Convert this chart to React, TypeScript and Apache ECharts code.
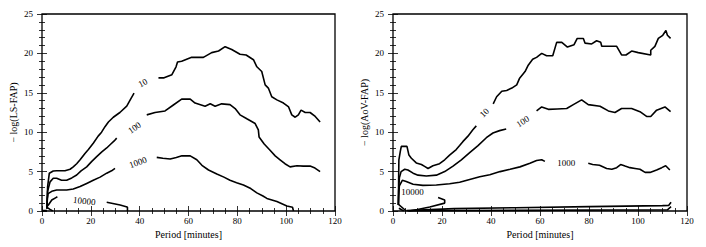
import React, { useEffect, useRef } from "react";
import * as echarts from "echarts";

// ---------- Data (x = period in minutes, y = -log FAP) ----------
const contourLabels = ["10", "100", "1000", "10000"];

// Left panel: LS-FAP contours
const ls10a = [[2,0.3],[2.3,3.1],[3.0,4.8],[4.6,5.07],[6,5.1],[9.4,5.1],[11.5,5.3],[12.8,5.6],[14.2,6.0],[15.6,6.5],[17.6,7.3],[19,7.8],[21,8.6],[23,9.5],[24.4,10],[25.8,10.7],[27.2,11.3],[29.2,11.9],[31.9,12.5],[34.7,13.3],[36.3,14.2],[37.7,14.95]];
const ls10b = [[47.7,16.9],[50,16.9],[53.2,17.3],[54.9,18.3],[55.5,18.9],[57.2,19.0],[61.3,19.5],[66.1,19.5],[69.5,20.1],[72.3,20.3],[75,20.85],[77.7,20.5],[81.1,19.9],[83.6,19.8],[86.6,19.2],[88,18.3],[90,17.7],[91.4,16.0],[92.7,15.6],[94.1,14.5],[96.2,14.1],[98.9,13.7],[101,13.2],[102.3,12.2],[103.7,11.9],[105,12.2],[106.1,12.8],[107.8,12.5],[109.8,12.5],[111.9,12.0],[113.9,11.3]];
const ls100a = [[2,0.3],[2.3,2.5],[3.3,3.7],[4.6,4.15],[6,4.15],[8,3.9],[10.1,3.9],[12.2,4.2],[14.2,4.57],[16,5.1],[18.3,5.6],[20.4,6.3],[22.4,6.9],[24.5,7.5],[26.5,8.0],[28.2,8.5],[29.9,9.0],[30.6,9.25]];
const ls100b = [[42.9,12.2],[46.3,12.5],[50.4,12.7],[53.8,13.45],[57.2,14.2],[60.7,14.2],[62.7,13.7],[66.8,13.3],[68.9,13.6],[70.9,13.3],[73.6,13.6],[77,13.5],[79.1,13.0],[81.1,12.2],[83.9,11.7],[87.3,11.1],[88.6,10.3],[88.9,9.4],[91,8.5],[93.4,7.7],[95.5,7.0],[97.5,6.5],[99.5,6.0],[101.6,5.6],[104.4,5.75],[107,5.7],[109.8,5.7],[111.8,5.45],[113.9,5.0]];
const ls1000a = [[2,0.3],[2.2,1.6],[2.5,2.2],[4,2.5],[6,2.66],[10.1,2.66],[12.8,2.8],[15.6,3.1],[18.3,3.5],[21,3.9],[23.8,4.3],[26.5,4.8],[28.5,5.1],[29.9,5.4]];
const ls1000b = [[47,6.8],[49.5,6.7],[52.5,6.6],[55,6.8],[57.3,7.0],[60.7,7.0],[63.4,6.5],[65.5,5.8],[68.2,5.2],[71.6,4.7],[74.5,4.3],[77,3.9],[79.7,3.6],[82.5,3.3],[85.5,2.85],[88,2.3],[90.5,1.9],[92.1,1.6],[96.2,1.2],[100.3,0.63],[102.6,0.47],[103,0]];
const ls10000a = [[1.9,0.5],[2.6,0.76],[4,1.4],[5.7,1.7],[6.3,1.8]];
const ls10000b = [[26.5,1.1],[29,0.95],[32,0.76],[34.5,0.55],[35,0.47],[35,0]];
const ls10000c = [[1.9,0.5],[3.3,0.2],[4.4,0]];
const lsEdge = [[0,0.05],[2,0.05]];

// Right panel: AoV-FAP contours
const aov10a = [[2.2,0.8],[2.3,4.0],[2.4,6.5],[3.0,7.6],[3.4,8.2],[5.7,8.2],[6.5,7.1],[7.5,6.7],[9.5,6.1],[11.6,5.9],[12.9,5.66],[14.3,5.4],[16.3,5.74],[19,6.0],[21.1,6.5],[23.1,7.1],[25.8,7.8],[27.2,8.3],[28.5,8.8],[30.6,9.5],[32.6,10.3],[34,10.8]];
const aov10b = [[40.9,13.6],[42.3,14.5],[44.4,15.2],[46.4,15.3],[48.5,15.6],[50.5,16.0],[51.6,16.8],[53.9,17.7],[55.2,18.5],[57,19.25],[58.6,19.5],[60.7,20.0],[62.7,19.7],[65.2,19.7],[66.8,21.4],[68.9,21.4],[71.2,20.8],[73.9,21.1],[75.2,21.9],[77.7,21.9],[78.4,21.3],[81.1,21.2],[83.1,21.6],[84.8,21.4],[85.2,20.9],[91.3,20.9],[93.3,19.8],[95.1,19.8],[97.4,20.3],[100.1,20.1],[105.2,19.8],[105.2,20.4],[106.9,20.9],[108.3,21.9],[110.1,22.3],[111.4,22.9],[112,22.3],[113.3,21.9]];
const aov100a = [[2.2,0.8],[2.3,2.5],[2.6,4.2],[3.3,5.0],[4.8,5.3],[6.1,5.2],[8.2,4.8],[10.2,4.55],[13.6,4.45],[17.7,4.55],[21.1,5.0],[24.5,5.7],[27.9,6.5],[31.3,7.4],[34.7,8.3],[38.1,9.3],[40.8,9.9],[43.5,10.2],[46.2,10.4]];
const aov100b = [[58.6,12.7],[60.7,13.2],[63.4,12.9],[67,12.95],[70.9,13.0],[73.6,13.5],[77,14.1],[79.7,13.5],[84.5,13.3],[87.9,12.7],[90.6,12.5],[93.3,13.0],[97.4,13.0],[100.8,12.6],[103.5,12.0],[105.2,12.0],[107.6,12.8],[111,13.2],[113.3,12.6]];
const aov1000a = [[2.2,0.8],[2.3,1.8],[2.6,3.2],[3.8,3.9],[5.4,3.75],[8.2,3.4],[12.2,3.25],[17.7,3.3],[23.1,3.45],[27.2,3.65],[31.3,4.0],[35.4,4.35],[39.5,4.6],[43.7,5.0],[47.8,5.3],[51.8,5.6],[55.9,6.05],[58.6,6.4],[60.7,6.5],[62,6.3]];
const aov1000b = [[79.7,6.05],[81.5,5.9],[84.3,5.8],[87.2,5.4],[89.3,5.3],[91.3,5.5],[92.9,5.9],[94.7,5.7],[96.7,5.5],[98.8,5.4],[100.8,5.3],[102.9,4.9],[104.9,4.9],[107.6,5.2],[109.7,5.5],[111.3,5.75],[113,5.2]];
const aov10000a = [[18.4,1.7],[21.1,1.4],[21.1,1.0],[15,0.5],[10,0.2],[6.5,0]];
const aov10000b = [[2,0.9],[5.4,0]];
const aov10000c = [[2.4,0.35],[4.4,0]];
const aovFlatA = [[5.5,0.05],[25,0.3],[50,0.42],[80,0.55],[110,0.68],[112.5,0.7],[113.5,1.1]];
const aovFlatB = [[6,0.02],[50,0.08],[112,0.15],[113.5,0.55]];

// Contour label anchors: [x, y, rotation]
const lsLabelPos = [[41.5,16.2,28],[38.1,10.5,35],[39.5,6.1,20],[17.5,1.2,-6]];
const aovLabelPos = [[37.5,12.4,45],[53.2,11.3,33],[70.9,6.0,0],[8.2,2.4,0]];

const yNames = ["\u2212 log(LS-FAP)", "\u2212 log(AoV-FAP)"];
const xName = "Period [minutes]";

const FONT = "'Liberation Serif', 'DejaVu Serif', serif";

function buildOption() {
  const grids = [
    { left: 42, right: 371, top: 14, bottom: 36 },
    { left: 393, right: 19, top: 14, bottom: 36 },
  ].map((g) => ({ ...g, show: true, borderColor: "#000", borderWidth: 1.3, backgroundColor: "transparent" }));

  const tickCommon = {
    axisLine: { show: false },
    axisTick: { show: true, inside: true, length: 5, lineStyle: { color: "#000", width: 0.8 } },
    minorTick: { show: true, length: 3, lineStyle: { color: "#000", width: 0.8 } },
    splitLine: { show: false },
    minorSplitLine: { show: false },
  };

  const txt = { fontFamily: FONT, color: "#000", fontWeight: "normal" as const };

  const xAxes: any[] = [];
  const yAxes: any[] = [];
  [0, 1].forEach((gi) => {
    const xBase = { type: "value", gridIndex: gi, min: 0, max: 120, interval: 20, ...tickCommon, minorTick: { ...tickCommon.minorTick, splitNumber: 4 } };
    xAxes.push({
      ...xBase,
      position: "bottom",
      name: xName,
      nameLocation: "middle",
      nameGap: 12,
      nameTextStyle: { ...txt, fontSize: 10 },
      axisLabel: { ...txt, fontSize: 9, margin: 5 },
    });
    xAxes.push({ ...xBase, position: "top", axisLabel: { show: false } });
    const yBase = { type: "value", gridIndex: gi, min: 0, max: 25, interval: 5, ...tickCommon, minorTick: { ...tickCommon.minorTick, splitNumber: 5 } };
    yAxes.push({
      ...yBase,
      position: "left",
      name: yNames[gi],
      nameLocation: "middle",
      nameGap: 24,
      nameTextStyle: { ...txt, fontSize: 10 },
      axisLabel: { ...txt, fontSize: 9, margin: 9 },
    });
    yAxes.push({ ...yBase, position: "right", axisLabel: { show: false } });
  });

  const line = (data: number[][], gi: number) => ({
    type: "line",
    xAxisIndex: gi * 2,
    yAxisIndex: gi * 2,
    data,
    symbol: "none",
    showSymbol: false,
    silent: true,
    lineStyle: { color: "#000", width: 1.6 },
    z: 3,
  });

  const labels = (pos: number[][], gi: number) => ({
    type: "scatter",
    xAxisIndex: gi * 2,
    yAxisIndex: gi * 2,
    symbolSize: 1,
    silent: true,
    itemStyle: { color: "#000", opacity: 0 },
    data: pos.map((p, i) => ({
      value: [p[0], p[1]],
      label: {
        show: true,
        position: [0, 0],
        align: "center",
        verticalAlign: "middle",
        formatter: contourLabels[i],
        rotate: p[2],
        ...txt,
        fontSize: 9,
        opacity: 1,
      },
    })),
    z: 4,
  });

  const left = [ls10a, ls10b, ls100a, ls100b, ls1000a, ls1000b, ls10000a, ls10000b, ls10000c, lsEdge];
  const right = [aov10a, aov10b, aov100a, aov100b, aov1000a, aov1000b, aov10000a, aov10000b, aov10000c, aovFlatA, aovFlatB];

  return {
    animation: false,
    backgroundColor: "#fff",
    textStyle: { fontFamily: FONT },
    grid: grids,
    xAxis: xAxes,
    yAxis: yAxes,
    series: [
      ...left.map((d) => line(d, 0)),
      ...right.map((d) => line(d, 1)),
      labels(lsLabelPos, 0),
      labels(aovLabelPos, 1),
    ],
  };
}

export default function App() {
  const ref = useRef<HTMLDivElement>(null);
  useEffect(() => {
    if (!ref.current) return;
    const chart = echarts.init(ref.current, undefined, { renderer: "svg" });
    chart.setOption(buildOption() as any);
    return () => chart.dispose();
  }, []);
  return (
    <div
      ref={ref}
      style={{ position: "absolute", left: 0, top: 0, width: 706, height: 247, background: "#fff" }}
    />
  );
}
